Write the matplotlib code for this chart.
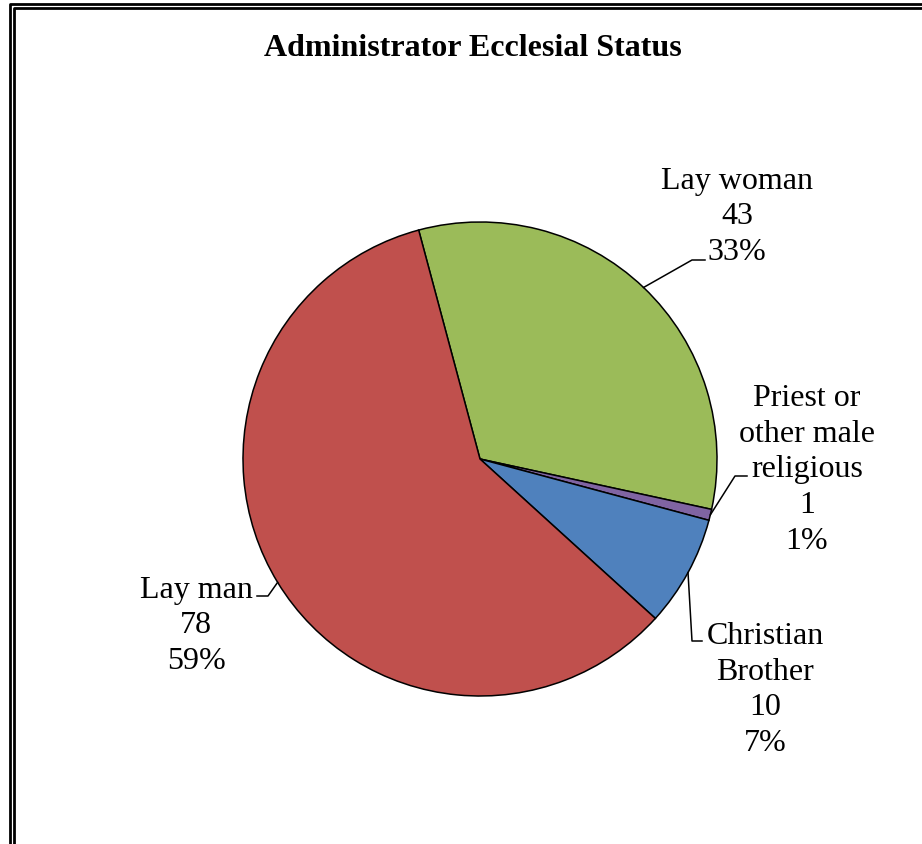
import matplotlib.pyplot as plt
from matplotlib.lines import Line2D
import numpy as np

plt.rcParams['font.family'] = ['Liberation Serif', 'DejaVu Serif']

# chart data
categories = ["Lay woman", "Priest or\nother male\nreligious", "Christian\nBrother", "Lay man"]
counts = [43, 1, 10, 78]
percents = ["33%", "1%", "7%", "59%"]
colors = ["#9BBB59", "#8064A2", "#4F81BD", "#C0504D"]

W, H = 922, 845
fig = plt.figure(figsize=(W / 100, H / 100), dpi=100)
ax = fig.add_axes([0, 0, 1, 1])

cx, cy, r = 480, H - 460, 237
wedges, _ = ax.pie(counts, colors=colors, startangle=105, counterclock=False,
                   center=(cx, cy), radius=r,
                   wedgeprops=dict(edgecolor="black", linewidth=1.1))
ax.set_xlim(0, W)
ax.set_ylim(0, H)
ax.set_aspect("equal")
ax.axis("off")

# label block centre, leader elbow, leader end (pixel coords from top-left)
label_pos = [(737, 217), (807, 470), (765, 690), (196, 626)]
elbows = [((692, 261), (705, 261)),
          ((735, 477), (747, 477)),
          ((692, 642), (702, 642)),
          ((268, 597), (257, 597))]

for w, cat, n, pct, (lx, ly), (el, end) in zip(wedges, categories, counts,
                                                percents, label_pos, elbows):
    mid = np.deg2rad((w.theta1 + w.theta2) / 2)
    ex, ey = cx + r * np.cos(mid), cy + r * np.sin(mid)
    ax.add_line(Line2D([ex, el[0], end[0]], [ey, H - el[1], H - end[1]],
                       color="black", linewidth=1.1))
    ax.text(lx, H - ly, f"{cat}\n{n}\n{pct}", ha="center", va="center",
            fontsize=23, linespacing=1.3)

ax.text(473, H - 49, "Administrator Ecclesial Status", ha="center", va="center",
        fontsize=23, fontweight="bold")

# double border, cut off at the right and bottom
for off in (9.5, 13.5):
    ax.add_line(Line2D([off, off, W], [0, H - (off - 4.5), H - (off - 4.5)],
                       color="black", linewidth=2.0, clip_on=False))

fig.savefig("out.png", dpi=100)
